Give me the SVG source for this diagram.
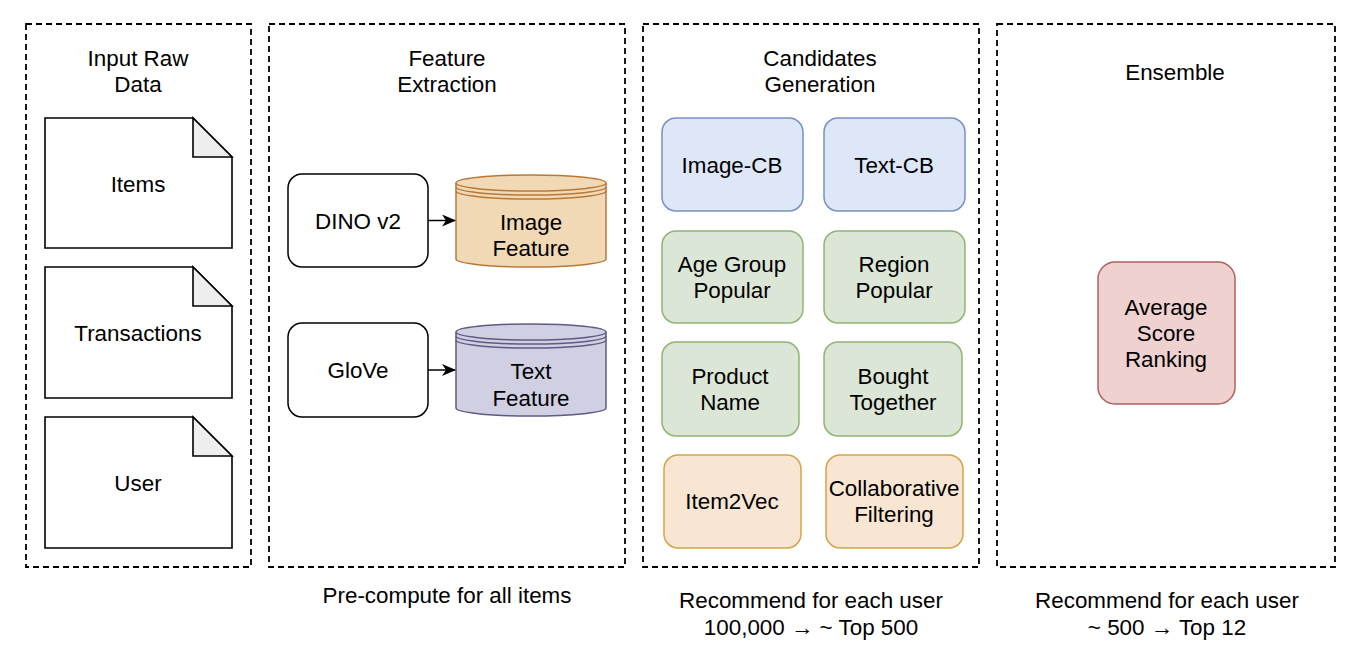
<svg xmlns="http://www.w3.org/2000/svg" width="1362" height="666" viewBox="0 0 1362 666">
<style>
text{font-family:"Liberation Sans",Arial,Helvetica,sans-serif;font-size:22.4px;fill:#000;text-anchor:middle}
.panel{fill:none;stroke:#000;stroke-width:1.8;stroke-dasharray:6 4}
.doc{fill:#fff;stroke:#000;stroke-width:1.6}
.fold{fill:#eeeeee;stroke:#000;stroke-width:1.6;stroke-linejoin:miter}
.wbox{fill:#fff;stroke:#000;stroke-width:1.5}
.blue{fill:#dde7f8;stroke:#7592c2;stroke-width:1.5}
.green{fill:#dbe6d6;stroke:#8fb574;stroke-width:1.5}
.orange{fill:#f8e6d3;stroke:#d2a54a;stroke-width:1.5}
.red{fill:#efd1cf;stroke:#b0625e;stroke-width:1.5}
.cylO{fill:#f1d9b5;stroke:#b87838;stroke-width:1.5}
.cylP{fill:#d1cfe2;stroke:#5f5a85;stroke-width:1.5}
.line{fill:none}
.edge{fill:none;stroke:#000;stroke-width:1.5}
</style>
<defs>
<marker id="arrow" viewBox="0 0 14 12" refX="13" refY="6" markerWidth="14" markerHeight="12" markerUnits="userSpaceOnUse" orient="auto">
<path d="M0,0 L14,6 L0,12 L4,6 Z" fill="#000"/>
</marker>
</defs>
<rect width="1362" height="666" fill="#fff"/>

<g id="panel-input">
<rect class="panel" x="26" y="24" width="225" height="543"/>
<text x="138" y="66">Input Raw</text>
<text x="138" y="92">Data</text>
</g>
<g id="panel-feature">
<rect class="panel" x="269" y="24" width="356" height="543"/>
<text x="447" y="66">Feature</text>
<text x="447" y="92">Extraction</text>
<text x="447" y="603">Pre-compute for all items</text>
</g>
<g id="panel-candidates">
<rect class="panel" x="643" y="24" width="336" height="543"/>
<text x="820" y="66">Candidates</text>
<text x="820" y="92">Generation</text>
<text x="811" y="608">Recommend for each user</text>
<text x="811" y="635">100,000 → ~ Top 500</text>
</g>
<g id="panel-ensemble">
<rect class="panel" x="997" y="24" width="338" height="543"/>
<text x="1175" y="80">Ensemble</text>
<text x="1167" y="608">Recommend for each user</text>
<text x="1167" y="635">~ 500 → Top 12</text>
</g>

<g id="doc-items">
<path class="doc" d="M45,118 H193 L232,157 V248 H45 Z"/>
<path class="fold" d="M193,118 V157 H232 Z"/>
<text x="138" y="192">Items</text>
</g>
<g id="doc-transactions">
<path class="doc" d="M45,267 H193 L232,306 V398 H45 Z"/>
<path class="fold" d="M193,267 V306 H232 Z"/>
<text x="138" y="341">Transactions</text>
</g>
<g id="doc-user">
<path class="doc" d="M45,417 H193 L232,456 V548 H45 Z"/>
<path class="fold" d="M193,417 V456 H232 Z"/>
<text x="138" y="491">User</text>
</g>

<g id="dino">
<rect class="wbox" x="288" y="174" width="140" height="93" rx="14"/>
<text x="358" y="229">DINO v2</text>
</g>
<g id="glove">
<rect class="wbox" x="288" y="323" width="140" height="94" rx="14"/>
<text x="358" y="378">GloVe</text>
</g>
<g id="image-feature">
<path class="cylO" d="M456,183 A75,8 0 0 1 606,183 L606,259 A75,8 0 0 1 456,259 Z"/>
<path class="cylO line" d="M456,183 A75,8 0 0 0 606,183 M456,187 A75,8 0 0 0 606,187 M456,191 A75,8 0 0 0 606,191"/>
<text x="531" y="230">Image</text>
<text x="531" y="256">Feature</text>
</g>
<g id="text-feature">
<path class="cylP" d="M456,332 A75,8 0 0 1 606,332 L606,408 A75,8 0 0 1 456,408 Z"/>
<path class="cylP line" d="M456,332 A75,8 0 0 0 606,332 M456,336 A75,8 0 0 0 606,336 M456,340 A75,8 0 0 0 606,340"/>
<text x="531" y="379">Text</text>
<text x="531" y="406">Feature</text>
</g>

<g id="image-cb">
<rect class="blue" x="662" y="118" width="141" height="93" rx="14"/>
<text x="732" y="173">Image-CB</text>
</g>
<g id="text-cb">
<rect class="blue" x="824" y="118" width="141" height="93" rx="14"/>
<text x="894" y="173">Text-CB</text>
</g>
<g id="age-group">
<rect class="green" x="662" y="231" width="141" height="92" rx="14"/>
<text x="732" y="272">Age Group</text>
<text x="732" y="298">Popular</text>
</g>
<g id="region">
<rect class="green" x="824" y="231" width="141" height="92" rx="14"/>
<text x="894" y="272">Region</text>
<text x="894" y="298">Popular</text>
</g>
<g id="product-name">
<rect class="green" x="662" y="342" width="137" height="94" rx="14"/>
<text x="730" y="384">Product</text>
<text x="730" y="410">Name</text>
</g>
<g id="bought-together">
<rect class="green" x="824" y="342" width="138" height="94" rx="14"/>
<text x="893" y="384">Bought</text>
<text x="893" y="410">Together</text>
</g>
<g id="item2vec">
<rect class="orange" x="664" y="455" width="137" height="93" rx="14"/>
<text x="732" y="509">Item2Vec</text>
</g>
<g id="collaborative">
<rect class="orange" x="826" y="455" width="137" height="93" rx="14"/>
<text x="894" y="496">Collaborative</text>
<text x="894" y="522">Filtering</text>
</g>

<g id="average-score">
<rect class="red" x="1098" y="262" width="137" height="142" rx="17"/>
<text x="1166" y="315">Average</text>
<text x="1166" y="341">Score</text>
<text x="1166" y="367">Ranking</text>
</g>

<g id="connectors">
<path class="edge" d="M428,220.5 H455" marker-end="url(#arrow)"/>
<path class="edge" d="M428,370 H455" marker-end="url(#arrow)"/>
</g>
</svg>
